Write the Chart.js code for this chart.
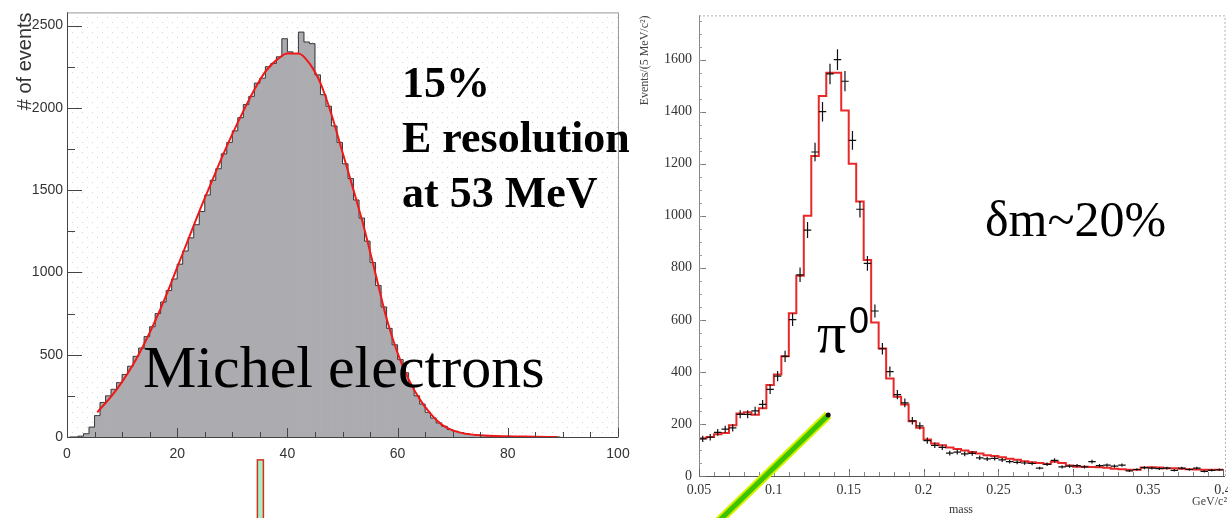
<!DOCTYPE html>
<html>
<head>
<meta charset="utf-8">
<script src="https://cdn.jsdelivr.net/npm/chart.js@4/dist/chart.umd.min.js"></script>
<style>
body { margin: 0; background: #fff; width: 1228px; height: 518px; overflow: hidden; position: relative; }
canvas { position: absolute; top: 0; }
#michel { left: 0; }
#pion { left: 630px; }
</style>
</head>
<body>
<canvas id="michel" width="660" height="518"></canvas>
<canvas id="pion" width="598" height="518"></canvas>
<script>
const SANS = '"Liberation Sans", Arial, sans-serif';
const SERIF = '"Liberation Serif", "Times New Roman", serif';

// ---- Michel electron spectrum (1 MeV bins, starting at 0 MeV)
const michelCounts = [
    0, 0, 5, 20, 60, 130, 210, 250, 290, 330,
    380, 430, 490, 540, 610, 670, 750, 820, 890, 960,
    1050, 1130, 1210, 1290, 1370, 1470, 1560, 1630, 1720, 1790,
    1860, 1940, 2020, 2070, 2150, 2180, 2250, 2270, 2310, 2420,
    2340, 2330, 2460, 2400, 2390, 2200, 2080, 2010, 1890, 1790,
    1660, 1570, 1440, 1330, 1190, 1060, 920, 790, 660, 560,
    470, 390, 310, 250, 200, 150, 115, 85, 65, 45,
    35, 27, 20, 15, 11, 8, 6, 5, 4, 3,
    3, 2, 2, 1, 1, 1, 1, 1, 0, 0
];
const michelBinWidth = 1;
const michelXTicks = [0, 20, 40, 60, 80, 100];
const michelYTicks = [0, 500, 1000, 1500, 2000, 2500];

// fitted curve
const fitEnergy = [5.5, 6, 8, 10, 12, 14, 16, 18, 20, 22, 24, 26, 28, 30, 32, 34, 36, 38, 40, 42,
    44, 46, 48, 50, 52, 54, 56, 58, 60, 62, 64, 66, 68, 70, 72, 75, 80, 85, 89];
const fitCounts = [150, 170, 245, 335, 440, 565, 705, 860, 1030, 1200, 1370, 1530, 1690, 1840, 1980, 2110, 2220, 2290, 2330, 2330,
    2270, 2150, 1960, 1730, 1500, 1260, 990, 720, 510, 350, 230, 140, 75, 40, 22, 10, 4, 2, 0];

// ---- pi0 mass (5 MeV bins from 0.05 GeV)
const massLow = 0.05;
const massBinWidth = 0.005;
const mcCounts = [
    145, 150, 160, 165, 195, 240, 245, 235, 260, 350,
    390, 460, 625, 770, 1000, 1230, 1460, 1550, 1550, 1405,
    1200, 1055, 830, 590, 490, 375, 305, 275, 210, 185,
    140, 125, 118, 110, 104, 98, 92, 86, 80, 77,
    72, 66, 62, 57, 53, 50, 46, 55, 50, 40,
    36, 36, 35, 34, 32, 28, 26, 24, 24, 33,
    34, 33, 30, 30, 28, 26, 25, 24, 24, 24
];
const dataCounts = [
    143, 149, 168, 180, 185, 237, 237, 250, 275, 333,
    384, 460, 601, 773, 945, 1245, 1400, 1545, 1600, 1517,
    1290, 1025, 817, 634, 489, 401, 313, 281, 212, 193,
    136, 118, 110, 88, 92, 85, 87, 70, 66, 68,
    62, 55, 52, 50, 48, 30, 45, 60, 35, 38,
    40, 35, 55, 40, 42, 38, 42, 20, 25, 32,
    30, 28, 30, 22, 30, 25, 30, 18, 22, 24
];
const massXTicks = [0.05, 0.1, 0.15, 0.2, 0.25, 0.3, 0.35, 0.4];
const massYTicks = [0, 200, 400, 600, 800, 1000, 1200, 1400, 1600];

// annotations (data units)
const greenLine = [[0.1363, 234], [0.0575, -205]];
const markerBar = { x: 35.1, top: -139 };

Chart.defaults.animation = false;

function range(a, b, step) {
    const out = [];
    for (let v = a; v <= b + step * 1e-6; v += step) out.push(+v.toFixed(6));
    return out;
}

function fixedTicks(values) {
    return scale => { scale.ticks = values.map(v => ({ value: v })); };
}

function drawTicks(chart, axis, values, len, color) {
    const { ctx, chartArea } = chart;
    const scale = chart.scales[axis];
    ctx.save();
    ctx.strokeStyle = color;
    ctx.lineWidth = 1;
    ctx.beginPath();
    values.forEach(v => {
        const p = Math.round(scale.getPixelForValue(v)) + 0.5;
        if (axis === 'x') {
            ctx.moveTo(p, chartArea.bottom);
            ctx.lineTo(p, chartArea.bottom - len);
        } else {
            ctx.moveTo(chartArea.left, p);
            ctx.lineTo(chartArea.left + len, p);
        }
    });
    ctx.stroke();
    ctx.restore();
}

function dotPattern(ctx) {
    const c = document.createElement('canvas');
    c.width = 10;
    c.height = 10;
    const g = c.getContext('2d');
    g.fillStyle = '#fff';
    g.fillRect(0, 0, 10, 10);
    g.fillStyle = '#d2d2d2';
    g.fillRect(2, 2, 1, 1);
    g.fillRect(7, 7, 1, 1);
    return ctx.createPattern(c, 'repeat');
}

const michelDecor = {
    id: 'michelDecor',
    beforeDatasetsDraw(chart) {
        const { ctx, chartArea: a } = chart;
        ctx.save();
        ctx.fillStyle = dotPattern(ctx);
        ctx.fillRect(a.left, a.top, a.right - a.left, a.bottom - a.top);
        ctx.restore();
    },
    afterDatasetsDraw(chart) {
        const { ctx, chartArea: a } = chart;
        ctx.save();
        ctx.strokeStyle = '#9a9a9a';
        ctx.lineWidth = 1;
        ctx.strokeRect(a.left + 0.5, a.top + 0.5, a.right - a.left, a.bottom - a.top);
        ctx.strokeStyle = '#444';
        ctx.beginPath();
        ctx.moveTo(a.left + 0.5, a.top);
        ctx.lineTo(a.left + 0.5, a.bottom);
        ctx.moveTo(a.left, a.bottom + 0.5);
        ctx.lineTo(a.right, a.bottom + 0.5);
        ctx.stroke();
        ctx.restore();
        drawTicks(chart, 'y', michelYTicks, 15, '#444');
        drawTicks(chart, 'y', range(250, 2250, 500), 8, '#444');
        drawTicks(chart, 'x', michelXTicks, 9, '#444');
        drawTicks(chart, 'x', range(5, 95, 5), 5, '#444');
    },
    afterDraw(chart) {
        const { ctx } = chart;
        ctx.save();
        ctx.fillStyle = '#000';
        ctx.textBaseline = 'alphabetic';
        ctx.font = 'bold 44px ' + SERIF;
        ctx.fillText('15%', 402, 97);
        ctx.fillText('E resolution', 402, 152);
        ctx.fillText('at 53 MeV', 402, 207);
        ctx.font = '60px ' + SERIF;
        ctx.fillText('Michel electrons', 143, 387);

        const px = chart.scales.x.getPixelForValue(markerBar.x);
        const top = chart.scales.y.getPixelForValue(markerBar.top);
        ctx.fillStyle = '#a8f0c4';
        ctx.strokeStyle = '#d83020';
        ctx.lineWidth = 1.5;
        ctx.fillRect(px - 3, top, 6, chart.height - top + 2);
        ctx.strokeRect(px - 3, top, 6, chart.height - top + 2);
        ctx.restore();
    }
};

const michelChart = new Chart(document.getElementById('michel'), {
    type: 'bar',
    data: {
        datasets: [{
            type: 'line',
            label: 'fit',
            data: fitEnergy.map((e, i) => ({ x: e, y: fitCounts[i] })),
            borderColor: '#f01818',
            borderWidth: 2,
            pointRadius: 0,
            cubicInterpolationMode: 'monotone',
            order: 1
        }, {
            type: 'line',
            label: 'outline',
            data: michelCounts.map((c, i) => ({ x: (i + 0.5) * michelBinWidth, y: c })),
            stepped: 'middle',
            borderColor: '#3a3a3a',
            borderWidth: 1,
            pointRadius: 0,
            order: 2
        }, {
            type: 'bar',
            label: 'events',
            data: michelCounts.map((c, i) => ({ x: (i + 0.5) * michelBinWidth, y: c })),
            backgroundColor: '#acacb0',
            borderWidth: 0,
            barPercentage: 1,
            categoryPercentage: 1,
            order: 3
        }]
    },
    options: {
        responsive: false,
        events: [],
        layout: { padding: { top: 10, right: 42 } },
        plugins: { legend: { display: false }, tooltip: { enabled: false } },
        scales: {
            x: {
                type: 'linear',
                min: 0,
                max: 100,
                offset: false,
                grid: { display: false, drawTicks: false },
                border: { display: false },
                afterBuildTicks: fixedTicks(michelXTicks),
                ticks: { padding: 9, maxRotation: 0, autoSkip: false, color: '#333', font: { family: SANS, size: 14 } },
                afterFit: s => { s.height = 81; s.paddingLeft = 0; s.paddingRight = 0; }
            },
            y: {
                min: 0,
                max: 2580,
                grid: { display: false, drawTicks: false },
                border: { display: false },
                afterBuildTicks: fixedTicks(michelYTicks),
                ticks: { padding: 4, autoSkip: false, color: '#333', font: { family: SANS, size: 14 }, callback: v => String(v) },
                title: { display: true, text: '# of events', align: 'end', color: '#333', font: { family: SANS, size: 20 }, padding: { top: 13, bottom: 0 } },
                afterFit: s => { s.width = 67; }
            }
        }
    },
    plugins: [michelDecor]
});

const pionDecor = {
    id: 'pionDecor',
    afterDatasetsDraw(chart) {
        const { ctx, chartArea: a } = chart;
        const y = chart.scales.y;
        const meta = chart.getDatasetMeta(1);
        const half = (chart.scales.x.getPixelForValue(massLow + massBinWidth) - chart.scales.x.getPixelForValue(massLow)) / 2;
        // error bars of the data points
        ctx.save();
        ctx.strokeStyle = '#111';
        ctx.lineWidth = 1.2;
        ctx.beginPath();
        meta.data.forEach((pt, i) => {
            const v = dataCounts[i];
            const err = Math.sqrt(v);
            ctx.moveTo(pt.x - half, pt.y);
            ctx.lineTo(pt.x + half, pt.y);
            ctx.moveTo(pt.x, y.getPixelForValue(v + err));
            ctx.lineTo(pt.x, y.getPixelForValue(v - err));
        });
        ctx.stroke();

        // frame
        ctx.strokeStyle = '#b0b0b0';
        ctx.lineWidth = 1;
        ctx.setLineDash([2, 2]);
        ctx.beginPath();
        ctx.moveTo(a.left, a.top + 0.5);
        ctx.lineTo(a.right + 2, a.top + 0.5);
        ctx.lineTo(a.right + 2.5, a.bottom);
        ctx.stroke();
        ctx.setLineDash([]);
        ctx.strokeStyle = '#888';
        ctx.beginPath();
        ctx.moveTo(a.left + 0.5, a.top);
        ctx.lineTo(a.left + 0.5, a.bottom);
        ctx.stroke();
        ctx.strokeStyle = '#555';
        ctx.beginPath();
        ctx.moveTo(a.left, a.bottom + 0.5);
        ctx.lineTo(a.right + 2, a.bottom + 0.5);
        ctx.stroke();
        ctx.restore();
        drawTicks(chart, 'y', massYTicks, 7, '#777');
        drawTicks(chart, 'y', range(50, 1750, 50), 3, '#999');
        drawTicks(chart, 'x', massXTicks, 7, '#666');
        drawTicks(chart, 'x', range(0.06, 0.39, 0.01), 4, '#888');
    },
    afterDraw(chart) {
        const { ctx } = chart;
        const xs = chart.scales.x, ys = chart.scales.y;
        ctx.save();
        // green marker line
        const p0 = [xs.getPixelForValue(greenLine[0][0]), ys.getPixelForValue(greenLine[0][1])];
        const p1 = [xs.getPixelForValue(greenLine[1][0]), ys.getPixelForValue(greenLine[1][1])];
        ctx.lineCap = 'butt';
        ctx.strokeStyle = '#d8f000';
        ctx.lineWidth = 9;
        ctx.beginPath();
        ctx.moveTo(p0[0], p0[1]);
        ctx.lineTo(p1[0], p1[1]);
        ctx.stroke();
        ctx.strokeStyle = '#3cc400';
        ctx.lineWidth = 5;
        ctx.beginPath();
        ctx.moveTo(p0[0], p0[1]);
        ctx.lineTo(p1[0], p1[1]);
        ctx.stroke();
        ctx.fillStyle = '#111';
        ctx.beginPath();
        ctx.arc(p0[0], p0[1], 2.5, 0, Math.PI * 2);
        ctx.fill();

        ctx.fillStyle = '#000';
        ctx.font = '50px ' + SERIF;
        ctx.fillText('\u03b4m~20%', 355, 236);
        ctx.font = '58px ' + SERIF;
        ctx.fillText('\u03c0', 187, 352);
        ctx.font = '36px ' + SANS;
        ctx.fillText('0', 219, 333);
        ctx.font = '12px ' + SERIF;
        ctx.fillStyle = '#444';
        ctx.textAlign = 'right';
        ctx.fillText('GeV/c\u00b2', 597, 505);
        ctx.restore();
    }
};

const centers = mcCounts.map((c, i) => massLow + (i + 0.5) * massBinWidth);
const massHigh = massLow + mcCounts.length * massBinWidth;

const pionChart = new Chart(document.getElementById('pion'), {
    type: 'line',
    data: {
        datasets: [{
            label: 'MC',
            data: [{ x: massLow, y: 0 }, { x: massLow, y: mcCounts[0] }]
                .concat(centers.map((m, i) => ({ x: m, y: mcCounts[i] })))
                .concat([{ x: massHigh, y: mcCounts[mcCounts.length - 1] }]),
            stepped: 'middle',
            borderColor: '#e82828',
            borderWidth: 2,
            pointRadius: 0
        }, {
            label: 'data',
            data: centers.map((m, i) => ({ x: m, y: dataCounts[i] })),
            showLine: false,
            pointRadius: 0
        }]
    },
    options: {
        responsive: false,
        events: [],
        layout: { padding: { top: 8, right: 5 } },
        plugins: { legend: { display: false }, tooltip: { enabled: false } },
        scales: {
            x: {
                type: 'linear',
                min: 0.05,
                max: 0.4,
                grid: { display: false, drawTicks: false },
                border: { display: false },
                afterBuildTicks: fixedTicks(massXTicks),
                ticks: {
                    padding: 6, maxRotation: 0, autoSkip: false, color: '#333',
                    font: { family: SERIF, size: 14 },
                    callback: v => String(+v.toFixed(2))
                },
                title: { display: true, text: 'mass', color: '#333', font: { family: SERIF, size: 12 }, padding: { top: 0, bottom: 1 } },
                afterFit: s => { s.height = 42; s.paddingLeft = 0; s.paddingRight = 0; }
            },
            y: {
                min: 0,
                max: 1770,
                grid: { display: false, drawTicks: false },
                border: { display: false },
                afterBuildTicks: fixedTicks(massYTicks),
                ticks: { padding: 7, autoSkip: false, color: '#333', font: { family: SERIF, size: 14 }, callback: v => String(v) },
                title: { display: true, text: 'Events/(5 MeV/c\u00b2)', align: 'end', color: '#444', font: { family: SERIF, size: 12 }, padding: { top: 8, bottom: 0 } },
                afterFit: s => { s.width = 69; }
            }
        }
    },
    plugins: [pionDecor]
});
</script>
</body>
</html>
